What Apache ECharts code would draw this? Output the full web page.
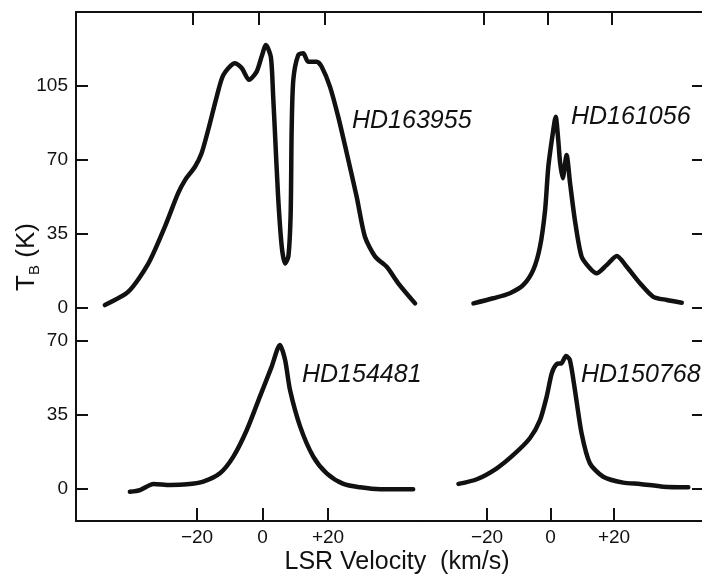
<!DOCTYPE html>
<html>
<head>
<meta charset="utf-8">
<script src="https://cdn.jsdelivr.net/npm/echarts@6/dist/echarts.min.js"></script>
<style>
  html, body { margin: 0; padding: 0; background: #fff; }
  #main { width: 702px; height: 580px; }
</style>
</head>
<body>
<div id="main"></div>
<script>
// [velocity km/s, brightness temperature K]
var hd163955 = [
  [-46.7, 1.4], [-39.6, 7.7], [-33.5, 21.1], [-28.5, 38.5], [-24.5, 54.3], [-22.4, 60.5],
  [-19.4, 66.8], [-17.4, 73.2], [-15.4, 84.2], [-12.8, 100.0], [-10.8, 110.2], [-7.3, 115.8],
  [-5.2, 113.4], [-3.0, 107.9], [-0.7, 111.8], [0.8, 118.9], [2.1, 124.4], [3.6, 118.7],
  [4.3, 100.0], [4.8, 84.2], [5.8, 52.6], [6.9, 29.0], [7.9, 21.1], [8.9, 24.3],
  [9.6, 44.8], [9.9, 84.2], [10.4, 107.9], [11.9, 119.7], [13.4, 120.5], [14.9, 116.5],
  [17.5, 116.5], [19.0, 114.1], [21.5, 104.7], [24.0, 90.5], [26.6, 73.2], [29.6, 52.6],
  [32.1, 33.7], [35.2, 24.3], [38.7, 19.5], [42.2, 11.7], [47.3, 2.2]
];
var hd161056 = [
  [-23.3, 2.2], [-17.1, 4.6], [-11.9, 7.0], [-7.7, 10.9], [-4.6, 18.0], [-2.5, 29.0],
  [-0.9, 46.4], [0.1, 66.8], [1.5, 82.6], [2.4, 90.5], [3.2, 79.5], [3.75, 69.2],
  [4.6, 61.4], [5.8, 72.4], [6.9, 59.0], [8.4, 41.6], [10.5, 24.3], [13.1, 18.8],
  [15.2, 16.4], [18.3, 20.3], [21.5, 24.6], [24.6, 19.5], [28.75, 11.7], [32.9, 5.3],
  [37.1, 3.8], [41.8, 2.5]
];
var hd154481 = [
  [-40.5, -1.3], [-37.4, -0.5], [-33.3, 2.4], [-28.2, 1.9], [-23.1, 2.2], [-18.1, 3.5],
  [-13.0, 7.4], [-8.9, 15.3], [-4.8, 27.9], [-0.8, 43.7], [2.8, 57.9], [5.3, 68.1],
  [6.9, 61.0], [8.4, 46.8], [11.5, 29.5], [15.5, 15.3], [19.6, 7.4], [24.7, 2.4],
  [29.8, 0.8], [35.9, -0.1], [46.0, -0.1]
];
var hd150768 = [
  [-29.0, 2.4], [-23.2, 4.6], [-16.9, 9.8], [-11.7, 16.1], [-6.5, 24.0], [-3.3, 32.6],
  [-1.2, 43.7], [0.4, 54.7], [1.95, 59.1], [3.5, 59.5], [4.9, 62.9], [6.1, 61.0],
  [7.7, 46.8], [9.8, 26.3], [12.4, 12.2], [16.6, 5.8], [22.9, 3.0], [28.2, 2.4],
  [35.5, 1.1], [43.4, 0.8]
];
var starNames = ['HD163955', 'HD161056', 'HD154481', 'HD150768'];
var velocityTicks = [-20, 0, 20];
var topTempTicks = [0, 35, 70, 105];
var bottomTempTicks = [0, 35, 70];

var font = 'Liberation Sans, Arial, Helvetica, sans-serif';
var ink = '#111';

function velLabel(v) {
  if (v < 0) return '\u2212' + Math.abs(v);
  if (v > 0) return '+' + v;
  return '0';
}

function xAxisFor(grid, pos, min, max, labels) {
  return {
    type: 'value', gridIndex: grid, position: pos, min: min, max: max,
    axisLine: { show: true, onZero: false, lineStyle: { color: ink, width: 2 } },
    axisTick: { show: true, inside: true, length: 13, customValues: velocityTicks,
      lineStyle: { color: ink, width: 2 } },
    axisLabel: { show: labels, customValues: velocityTicks, formatter: velLabel,
      color: ink, fontSize: 19, fontFamily: font, margin: 7 },
    splitLine: { show: false }
  };
}

function yAxisFor(grid, pos, min, max, ticks, labels) {
  return {
    type: 'value', gridIndex: grid, position: pos, min: min, max: max,
    axisLine: { show: true, onZero: false, lineStyle: { color: ink, width: 2 } },
    axisTick: { show: true, inside: true, length: 12, customValues: ticks,
      lineStyle: { color: ink, width: 2 } },
    axisLabel: { show: labels, customValues: ticks, color: ink, fontSize: 19,
      fontFamily: font, margin: 8 },
    splitLine: { show: false }
  };
}

function profile(data, idx) {
  return {
    type: 'line', xAxisIndex: idx, yAxisIndex: idx, data: data,
    smooth: 0.25, showSymbol: false, silent: true,
    lineStyle: { color: ink, width: 4.5, cap: 'round', join: 'round' }
  };
}

var chart = echarts.init(document.getElementById('main'), null, { renderer: 'canvas' });

var option = {
  backgroundColor: '#fff',
  animation: false,
  grid: [
    { left: 76, top: 12, width: 344, height: 313, outerBoundsMode: 'none' },
    { left: 420, top: 12, width: 284, height: 313, outerBoundsMode: 'none' },
    { left: 76, top: 325, width: 344, height: 196, outerBoundsMode: 'none' },
    { left: 420, top: 325, width: 284, height: 196, outerBoundsMode: 'none' }
  ],
  xAxis: [
    xAxisFor(0, 'top', -55.45, 48.79, false),
    xAxisFor(1, 'top', -40, 48.75, false),
    xAxisFor(2, 'bottom', -56.95, 48.09, true),
    xAxisFor(3, 'bottom', -41.1, 48.35, true)
  ],
  yAxis: [
    yAxisFor(0, 'left', -8.04, 140.0, topTempTicks, true),
    yAxisFor(1, 'right', -8.04, 140.0, topTempTicks, false),
    yAxisFor(2, 'left', -15.14, 77.57, bottomTempTicks, true),
    yAxisFor(3, 'right', -15.14, 77.57, bottomTempTicks, false)
  ],
  series: [
    profile(hd163955, 0),
    profile(hd161056, 1),
    profile(hd154481, 2),
    profile(hd150768, 3)
  ],
  graphic: [
    { type: 'text', x: 352, y: 121, style: { text: starNames[0], fill: ink,
      font: 'italic 25px ' + font, verticalAlign: 'middle' } },
    { type: 'text', x: 571, y: 117, style: { text: starNames[1], fill: ink,
      font: 'italic 25px ' + font, verticalAlign: 'middle' } },
    { type: 'text', x: 302, y: 375, style: { text: starNames[2], fill: ink,
      font: 'italic 25px ' + font, verticalAlign: 'middle' } },
    { type: 'text', x: 581, y: 375, style: { text: starNames[3], fill: ink,
      font: 'italic 25px ' + font, verticalAlign: 'middle' } },
    { type: 'text', x: 397, y: 562, style: { text: 'LSR Velocity  (km/s)', fill: ink,
      font: '25px ' + font, align: 'center', verticalAlign: 'middle' } },
    { type: 'text', x: 27, y: 257, rotation: Math.PI / 2, style: {
      text: '{t|T}{s|B}{t| (K)}', fill: ink, align: 'center', verticalAlign: 'middle',
      rich: {
        t: { fontSize: 26, fontFamily: font, fill: ink, lineHeight: 30 },
        s: { fontSize: 15, fontFamily: font, fill: ink, lineHeight: 30, verticalAlign: 'bottom' }
      } } }
  ]
};

chart.setOption(option);
</script>
</body>
</html>
